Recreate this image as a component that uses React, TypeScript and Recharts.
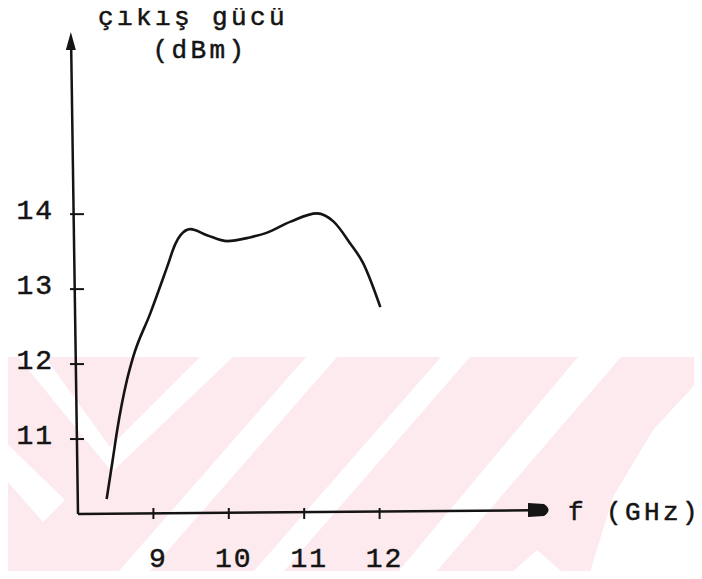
import React from "react";
import {
  LineChart,
  Line,
  XAxis,
  YAxis,
  ReferenceLine,
  ReferenceDot,
} from "recharts";

// ---- data ----
const freqGHz = [8.38, 8.46, 8.52, 8.65, 8.73, 8.96, 9.18, 9.29, 9.36, 9.49, 9.71, 9.98, 10.28, 10.5, 10.82, 11.17, 11.39, 11.61, 11.78, 12.01];
const powerDbm = [10.2, 10.72, 11.12, 11.79, 12.09, 12.68, 13.29, 13.6, 13.72, 13.8, 13.72, 13.64, 13.69, 13.75, 13.9, 14.01, 13.9, 13.61, 13.35, 12.76];
const xTicks = [9, 10, 11, 12];
const yTicks = [11, 12, 13, 14];
const xDomain = [8, 14.3];
const yDomain = [10, 16.43];
const titleLine1 = "çıkış gücü";
const titleLine2 = "(dBm)";
const xTitle = "f (GHz)";

const data = freqGHz.map((f, i) => ({ f, p: powerDbm[i] }));

const INK = "#141414";
const FONT = "'Liberation Mono', 'DejaVu Sans Mono', monospace";
const textStyle = {
  fontFamily: FONT,
  fontSize: 28,
  fill: INK,
  letterSpacing: 2,
  stroke: INK,
  strokeWidth: 0.5,
};
const titleStyle = {
  ...textStyle,
  fontSize: 26,
  letterSpacing: 3.4,
};

const YTick = (props: any) => {
  const { x, y, payload } = props;
  return (
    <g>
      <line x1={x - 8} x2={x + 6} y1={y} y2={y} stroke={INK} strokeWidth={2} />
      <text x={x - 24} y={y + 5} textAnchor="end" style={textStyle as any}>
        {payload.value}
      </text>
    </g>
  );
};

const XTick = (props: any) => {
  const { x, y, payload } = props;
  return (
    <g>
      <line x1={x} x2={x} y1={y - 6} y2={y + 5} stroke={INK} strokeWidth={2} />
      <text x={x + 5} y={y + 53} textAnchor="middle" style={textStyle as any}>
        {payload.value}
      </text>
    </g>
  );
};

const YTitle = (props: any) => {
  const vb = props.viewBox || { x: 0, y: 32 };
  return (
    <g>
      <text x={vb.x + 193} y={vb.y - 7} textAnchor="middle" style={titleStyle as any}>
        {titleLine1}
      </text>
      <text x={vb.x + 200} y={vb.y + 26} textAnchor="middle" style={titleStyle as any}>
        {titleLine2}
      </text>
    </g>
  );
};

const XTitle = (props: any) => {
  const vb = props.viewBox || { x: 78, y: 514, width: 475 };
  return (
    <text x={vb.x + vb.width + 15} y={vb.y + 6} textAnchor="start" style={titleStyle as any}>
      {xTitle}
    </text>
  );
};

const UpArrow = (props: any) => {
  const { cx, cy } = props;
  return <path d={`M ${cx} ${cy} L ${cx + 5} ${cy + 18} L ${cx - 5} ${cy + 18} Z`} fill={INK} />;
};

const RightArrow = (props: any) => {
  const { cx, cy } = props;
  return (
    <path
      d={`M ${cx - 25} ${cy - 7} L ${cx - 9} ${cy - 6} Q ${cx} ${cy} ${cx - 9} ${cy + 6} L ${cx - 25} ${cy + 7} Z`}
      fill={INK}
    />
  );
};

const Watermark = () => (
  <svg width={702} height={579} style={{ position: "absolute", left: 0, top: 0 }}>
    <polygon points="0,357 702,357 702,377 653,430 613,497 588,579 0,579" fill="#fdeaee" />
    <g fill="#ffffff">
      <polygon points="18,357 45,357 110,447 200,357 233,357 112,472" />
      <polygon points="0,437 65,500 43,522 0,473" />
      <polygon points="306,357 337,357 143,579 112,579" />
      <polygon points="441,357 470,357 277,579 247,579" />
      <polygon points="578,357 621,357 430,579 392,579" />
      <polygon points="505,579 537,550 570,579" />
    </g>
  </svg>
);

export default function App() {
  return (
    <div style={{ position: "relative", width: 702, height: 579, margin: -8 }}>
      <Watermark />
      <div style={{ position: "absolute", left: 0, top: 0 }}>
        <LineChart
          width={702}
          height={579}
          data={data}
          margin={{ top: 32, right: 149, bottom: 0, left: 0 }}
        >
          <XAxis
            dataKey="f"
            type="number"
            domain={xDomain}
            ticks={xTicks}
            axisLine={false}
            tickLine={false}
            tickSize={0}
            tickMargin={0}
            height={65}
            allowDataOverflow
            tick={<XTick />}
            label={<XTitle />}
          />
          <YAxis
            type="number"
            domain={yDomain}
            ticks={yTicks}
            axisLine={false}
            tickLine={false}
            tickSize={0}
            tickMargin={0}
            width={78}
            allowDataOverflow
            tick={<YTick />}
            label={<YTitle />}
          />
          <ReferenceLine
            segment={[{ x: 8, y: 10 }, { x: 7.91, y: 16.2 }]}
            stroke={INK}
            strokeWidth={2.5}
            ifOverflow="visible"
          />
          <ReferenceLine
            segment={[{ x: 8, y: 10 }, { x: 14.0, y: 10.05 }]}
            stroke={INK}
            strokeWidth={2.5}
            ifOverflow="visible"
          />
          <ReferenceDot x={7.905} y={16.43} r={5} ifOverflow="visible" shape={<UpArrow />} />
          <ReferenceDot x={14.3} y={10.055} r={5} ifOverflow="visible" shape={<RightArrow />} />
          <Line
            type="monotone"
            dataKey="p"
            stroke={INK}
            strokeWidth={2.6}
            dot={false}
            isAnimationActive={false}
          />
        </LineChart>
      </div>
    </div>
  );
}
